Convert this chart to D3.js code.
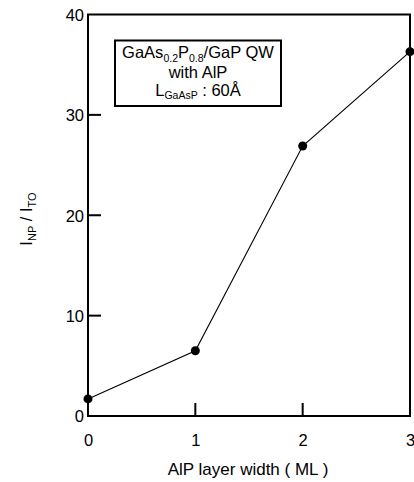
<!DOCTYPE html>
<html>
<head>
<meta charset="utf-8">
<script src="https://cdn.jsdelivr.net/npm/d3@7"></script>
<style>
  html, body { margin: 0; padding: 0; background: #fff; }
  svg { display: block; font-family: "Liberation Sans", Arial, Helvetica, sans-serif; }
</style>
</head>
<body>
<svg id="chart" width="414" height="482"></svg>
<script>
// AlP layer width (ML) and the NP / TO intensity ratio
const layerWidth = [0, 1, 2, 3];
const intensityRatio = [1.7, 6.5, 26.9, 36.3];
const xTicks = [0, 1, 2, 3];
const yTicks = [0, 10, 20, 30, 40];

const svg = d3.select("#chart");
const plotLeft = 88, plotRight = 410, plotTop = 14.5, plotBottom = 416;
const tickLen = 13;

const x = d3.scaleLinear().domain([0, 3]).range([plotLeft, plotRight]);
const y = d3.scaleLinear().domain([0, 40]).range([plotBottom, plotTop]);

// tick labels from the library axes
const xAxis = svg.append("g")
  .attr("transform", `translate(0,${plotBottom})`)
  .call(d3.axisBottom(x).tickValues(xTicks).tickSize(0).tickPadding(18).tickFormat(d3.format("d")));
xAxis.select(".domain").remove();
xAxis.selectAll(".tick text").attr("font-size", 16.5).attr("fill", "#000")
  .attr("dy", "0.72em");

const yAxis = svg.append("g")
  .attr("transform", `translate(${plotLeft},0)`)
  .call(d3.axisLeft(y).tickValues(yTicks).tickSize(0).tickPadding(4).tickFormat(d3.format("d")));
yAxis.select(".domain").remove();
yAxis.selectAll(".tick text").attr("font-size", 16.5).attr("fill", "#000")
  .attr("dy", "0.36em");

// inward tick marks, drawn as thin filled bars
svg.selectAll("rect.xtick").data(xTicks.slice(1, -1)).enter().append("rect")
  .attr("class", "xtick")
  .attr("x", d => x(d) - 1).attr("y", plotBottom - tickLen)
  .attr("width", 2).attr("height", tickLen)
  .attr("fill", "#000");
svg.selectAll("rect.ytick").data(yTicks.slice(1, -1)).enter().append("rect")
  .attr("class", "ytick")
  .attr("x", plotLeft).attr("y", d => y(d) - 1)
  .attr("width", tickLen).attr("height", 2)
  .attr("fill", "#000");

// plot frame
svg.append("rect")
  .attr("x", plotLeft).attr("y", plotTop)
  .attr("width", plotRight - plotLeft).attr("height", plotBottom - plotTop)
  .attr("fill", "none").attr("stroke", "#000").attr("stroke-width", 2);

// data line and markers
const pts = layerWidth.map((d, i) => [d, intensityRatio[i]]);
svg.append("path")
  .datum(pts)
  .attr("fill", "none").attr("stroke", "#000").attr("stroke-width", 1.1)
  .attr("d", d3.line().x(d => x(d[0])).y(d => y(d[1])));
svg.selectAll("circle.pt").data(pts).enter().append("circle")
  .attr("class", "pt")
  .attr("cx", d => x(d[0])).attr("cy", d => y(d[1]))
  .attr("r", 4.5).attr("fill", "#000");

// x axis title
svg.append("text")
  .attr("x", 248).attr("y", 475)
  .attr("text-anchor", "middle").attr("font-size", 17).attr("fill", "#000")
  .text("AlP layer width ( ML )");

// y axis title: I_NP / I_TO
const yt = svg.append("text")
  .attr("transform", "translate(32,219) rotate(-90)")
  .attr("text-anchor", "middle").attr("font-size", 16.5).attr("fill", "#000");
yt.append("tspan").text("I");
yt.append("tspan").attr("font-size", 11).attr("dy", 4).text("NP");
yt.append("tspan").attr("dy", -4).text(" / I");
yt.append("tspan").attr("font-size", 11).attr("dy", 4).text("TO");

// annotation box
svg.append("rect")
  .attr("x", 115).attr("y", 40.5)
  .attr("width", 166).attr("height", 65.5)
  .attr("fill", "#fff").attr("stroke", "#000").attr("stroke-width", 2);

const cx = 198;
const l1 = svg.append("text").attr("x", cx).attr("y", 58)
  .attr("text-anchor", "middle").attr("font-size", 16.5).attr("fill", "#000");
l1.append("tspan").text("GaAs");
l1.append("tspan").attr("font-size", 10.5).attr("dy", 3.5).text("0.2");
l1.append("tspan").attr("dy", -3.5).text("P");
l1.append("tspan").attr("font-size", 10.5).attr("dy", 3.5).text("0.8");
l1.append("tspan").attr("dy", -3.5).text("/GaP QW");

svg.append("text").attr("x", cx).attr("y", 78)
  .attr("text-anchor", "middle").attr("font-size", 16.5).attr("fill", "#000")
  .text("with AlP");

const l3 = svg.append("text").attr("x", cx).attr("y", 95.5)
  .attr("text-anchor", "middle").attr("font-size", 16.5).attr("fill", "#000");
l3.append("tspan").text("L");
l3.append("tspan").attr("font-size", 10.5).attr("dy", 3.5).text("GaAsP");
l3.append("tspan").attr("dy", -3.5).text(" : 60Å");
</script>
</body>
</html>
